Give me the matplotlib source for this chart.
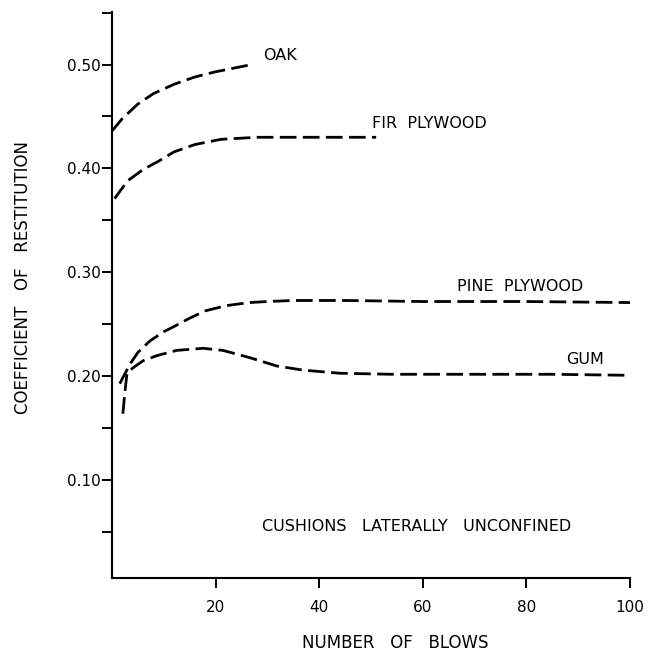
import numpy as np
import matplotlib.pyplot as plt
from matplotlib.ticker import FixedLocator, NullFormatter

# values
oak_x = [0, 2, 5, 8, 12, 16, 20, 24, 27]
oak_y = [0.436, 0.448, 0.462, 0.472, 0.481, 0.488, 0.493, 0.497, 0.500]

fir_x = [0.5, 3, 6, 9, 12, 16, 21, 28, 40, 51]
fir_y = [0.371, 0.388, 0.399, 0.407, 0.416, 0.423, 0.428, 0.430, 0.430, 0.430]

pine_x = [1.5, 3.5, 5, 7.3, 10, 12, 15, 18, 22, 26.5, 30, 35, 45, 60, 80, 100]
pine_y = [0.193, 0.212, 0.223, 0.234, 0.243, 0.248, 0.256, 0.263, 0.268, 0.271,
          0.272, 0.273, 0.273, 0.272, 0.272, 0.271]

gum_x = [2.1, 2.5, 2.9, 4, 6, 8.7, 12.5, 17.6, 21.4, 26.6, 31.8, 36.9, 44, 54, 70, 85, 100]
gum_y = [0.164, 0.185, 0.203, 0.208, 0.215, 0.220, 0.225, 0.227, 0.225, 0.218,
         0.210, 0.206, 0.203, 0.202, 0.202, 0.202, 0.201]

x_ticks = [20, 40, 60, 80, 100]
y_ticks = [0.10, 0.20, 0.30, 0.40, 0.50]
y_tick_labels = ['0.10', '0.20', '0.30', '0.40', '0.50']
y_minor = [0.05, 0.15, 0.25, 0.35, 0.45, 0.55]

plt.rcParams['font.family'] = 'DejaVu Sans'

fig = plt.figure(figsize=(6.48, 6.53), dpi=100)
ax = fig.add_axes([0.1728, 0.1148, 0.7994, 0.8668])

style = dict(color='black', linewidth=2.0, dashes=(6, 2.3))
ax.plot(oak_x, oak_y, **style)
ax.plot(fir_x, fir_y, **style)
ax.plot(pine_x, pine_y, **style)
ax.plot(gum_x, gum_y, **style)

# curve labels
ax.text(29.2, 0.509, 'OAK', fontsize=11.5, ha='left', va='center')
ax.text(50.2, 0.4435, 'FIR  PLYWOOD', fontsize=11.5, ha='left', va='center')
ax.text(66.6, 0.286, 'PINE  PLYWOOD', fontsize=11.5, ha='left', va='center')
ax.text(87.6, 0.216, 'GUM', fontsize=11.5, ha='left', va='center')
ax.text(29.0, 0.056, 'CUSHIONS   LATERALLY   UNCONFINED', fontsize=11.5,
        ha='left', va='center')

ax.set_xlim(0, 100)
ax.set_ylim(0.006, 0.5505)

ax.spines['top'].set_visible(False)
ax.spines['right'].set_visible(False)
ax.spines['left'].set_linewidth(1.5)
ax.spines['bottom'].set_linewidth(1.5)

ax.set_xticks(x_ticks)
ax.set_xticklabels([str(v) for v in x_ticks])
ax.set_yticks(y_ticks)
ax.set_yticklabels(y_tick_labels)
ax.yaxis.set_minor_locator(FixedLocator(y_minor))
ax.yaxis.set_minor_formatter(NullFormatter())

ax.tick_params(axis='y', which='both', direction='out', length=7, width=1.4,
               pad=1, labelsize=11)
ax.tick_params(axis='x', which='both', direction='out', length=7, width=1.4,
               pad=9, labelsize=11)

fig.text(23 / 648, 1 - 277 / 653, 'COEFFICIENT   OF   RESTITUTION', rotation=90,
         fontsize=12, ha='center', va='center')
fig.text(395 / 648, 1 - 643 / 653, 'NUMBER   OF   BLOWS', fontsize=12,
         ha='center', va='center')

fig.savefig('out.png', dpi=100)
